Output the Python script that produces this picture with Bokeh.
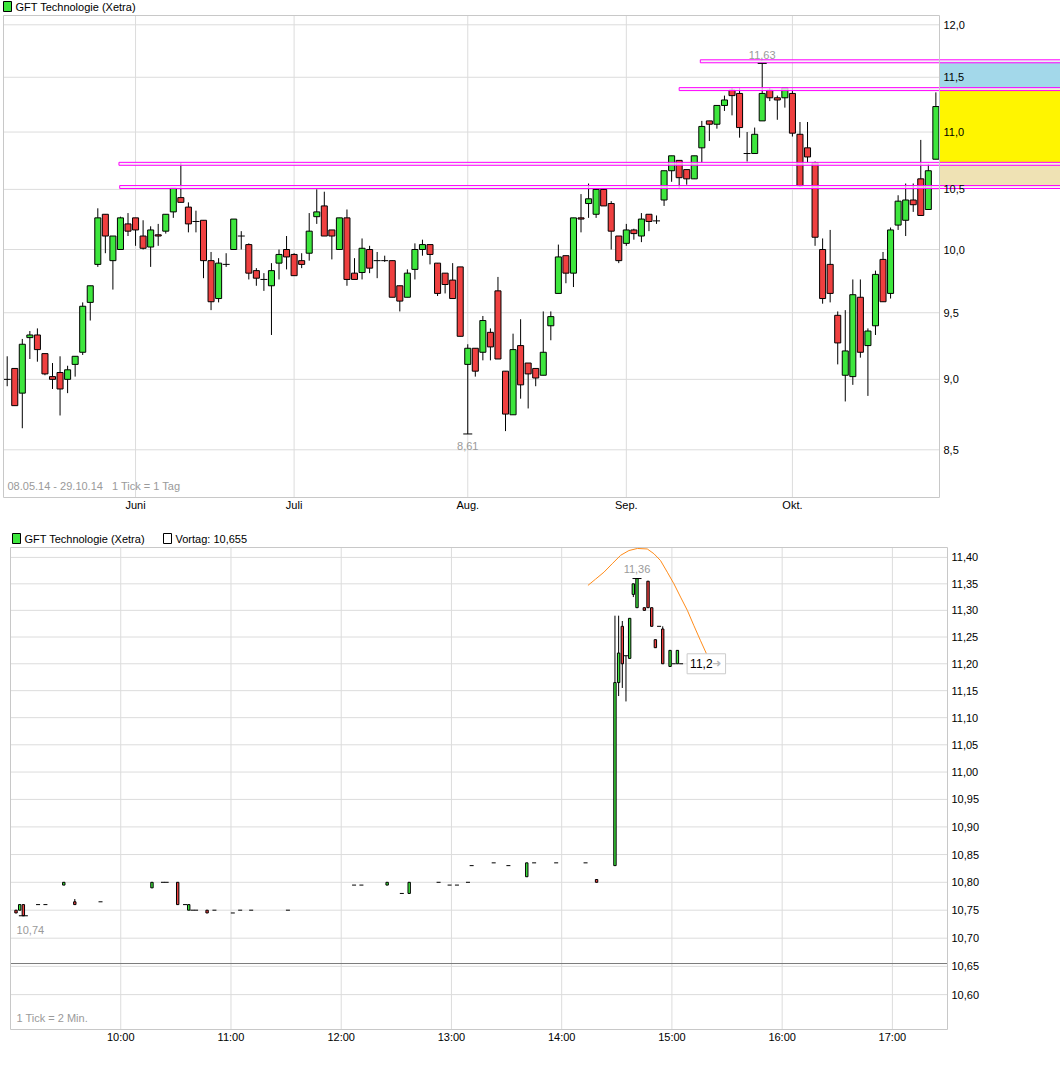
from bokeh.plotting import figure
from bokeh.layouts import column
from bokeh.models import (ColumnDataSource, Range1d, FixedTicker, CustomJSTickFormatter,
                          Label, BoxAnnotation)
from bokeh.core.properties import value
from bokeh.embed import file_html
from bokeh.resources import INLINE

FONT = "Liberation Sans"
GREEN = "#3de63d"
RED = "#ef4040"
GRID = "#dcdcdc"
OUTLINE = "#c8c8c8"
GRAY_TXT = "#9a9a9a"

# ---------------- daily candles 08.05.14 - 29.10.14 ----------------
d_open = [9.00, 9.08, 8.90, 9.31, 9.33, 9.19, 9.02, 9.05, 9.00, 9.11,
          9.20, 9.58, 9.88, 10.29, 9.91, 10.00, 10.21, 10.26, 10.11, 10.02,
          10.12, 10.15, 10.31, 10.43, 10.35, 10.23, 10.24, 9.91, 9.61, 9.88,
          10.00, 10.11, 10.04, 9.83, 9.76, 9.71, 9.89, 10.00, 9.96, 9.91,
          9.97, 10.27, 10.36, 10.16, 10.00, 10.26, 9.81, 9.815, 10.00, 9.91,
          9.91, 9.91, 9.71, 9.62, 9.84, 10.00, 10.04, 9.89, 9.81, 9.755,
          9.86, 9.11, 9.23, 9.20, 9.35, 9.67, 9.06, 8.745, 9.25, 9.12,
          9.08, 9.03, 9.40, 9.65, 9.95, 9.81, 10.26, 10.38, 10.29, 10.50,
          10.38, 10.11, 10.05, 10.16, 10.11, 10.29, 10.235, 10.41, 10.66, 10.75,
          10.67, 10.59, 10.86, 11.10, 11.07, 11.24, 11.38, 11.35, 10.81, 10.81,
          11.10, 11.38, 11.31, 11.31, 11.35, 10.98, 10.86, 10.73, 10.00, 9.88,
          9.48, 9.03, 9.02, 9.62, 9.25, 9.40, 9.92, 9.65, 10.20, 10.24,
          10.41, 10.59, 10.33, 10.76]
d_high = [9.17, 9.08, 9.30, 9.36, 9.38, 9.19, 9.12, 9.17, 9.10, 9.17,
          9.58, 9.71, 10.34, 10.29, 10.11, 10.27, 10.30, 10.26, 10.24, 10.19,
          10.21, 10.29, 10.51, 10.73, 10.39, 10.32, 10.24, 9.98, 9.93, 9.97,
          10.25, 10.15, 10.05, 9.85, 9.81, 9.89, 10.00, 10.11, 9.97, 9.97,
          10.30, 10.50, 10.48, 10.16, 10.26, 10.33, 9.93, 10.09, 10.03, 9.98,
          9.95, 9.91, 9.71, 9.84, 10.05, 10.08, 10.04, 9.89, 9.81, 9.89,
          9.86, 9.26, 9.23, 9.475, 9.38, 9.78, 9.06, 9.34, 9.45, 9.12,
          9.08, 9.51, 9.51, 10.04, 9.95, 10.26, 10.46, 10.55, 10.50, 10.50,
          10.40, 10.11, 10.21, 10.17, 10.30, 10.29, 10.28, 10.66, 10.79, 10.75,
          10.67, 10.79, 11.10, 11.10, 11.24, 11.33, 11.40, 11.40, 11.00, 11.04,
          11.63, 11.40, 11.33, 11.40, 11.40, 11.09, 11.09, 10.74, 10.09, 10.16,
          9.51, 9.52, 9.76, 9.76, 9.38, 9.83, 9.98, 10.18, 10.45, 10.55,
          10.55, 10.93, 10.72, 11.36]
d_low = [8.95, 8.81, 8.65, 9.15, 9.13, 9.03, 8.93, 8.74, 8.90, 9.02,
         9.18, 9.44, 9.86, 9.97, 9.68, 10.00, 10.11, 10.03, 10.00, 9.86,
         10.03, 10.13, 10.26, 10.39, 10.14, 10.14, 9.77, 9.52, 9.58, 9.86,
         10.00, 10.00, 9.76, 9.71, 9.67, 9.33, 9.76, 9.84, 9.79, 9.85,
         9.91, 10.21, 10.11, 9.92, 10.00, 9.71, 9.76, 9.76, 9.81, 9.77,
         9.90, 9.62, 9.51, 9.62, 9.76, 9.95, 9.88, 9.63, 9.65, 9.61,
         9.32, 8.61, 9.02, 9.14, 9.14, 9.15, 8.63, 8.745, 8.86, 8.79,
         8.95, 9.03, 9.29, 9.65, 9.73, 9.70, 10.14, 10.26, 10.26, 10.36,
         10.00, 9.89, 10.03, 10.08, 10.06, 10.15, 10.21, 10.36, 10.565, 10.51,
         10.54, 10.59, 10.73, 10.92, 11.03, 11.19, 11.15, 10.95, 10.74, 10.81,
         11.10, 11.28, 11.11, 11.22, 10.96, 10.52, 10.73, 10.03, 9.57, 9.58,
         9.11, 8.84, 8.96, 9.16, 8.88, 9.33, 9.585, 9.61, 10.16, 10.11,
         10.31, 10.28, 10.33, 10.76]
d_close = [9.00, 8.81, 9.26, 9.33, 9.22, 9.04, 9.00, 8.93, 9.07, 9.17,
           9.55, 9.71, 10.26, 10.11, 10.11, 10.26, 10.15, 10.16, 10.01, 10.16,
           10.11, 10.29, 10.51, 10.39, 10.21, 10.23, 9.91, 9.585, 9.89, 9.88,
           10.25, 10.11, 9.81, 9.77, 9.76, 9.83, 9.96, 9.94, 9.79, 9.88,
           10.15, 10.31, 10.11, 10.11, 10.26, 9.76, 9.76, 10.01, 9.85, 9.91,
           9.91, 9.62, 9.59, 9.81, 10.00, 10.04, 9.96, 9.65, 9.72, 9.61,
           9.32, 9.23, 9.06, 9.44, 9.24, 9.15, 8.75, 9.22, 8.96, 9.04,
           9.01, 9.20, 9.47, 9.94, 9.81, 10.26, 10.25, 10.42, 10.50, 10.36,
           10.15, 9.91, 10.16, 10.13, 10.25, 10.23, 10.235, 10.66, 10.79, 10.60,
           10.59, 10.79, 11.05, 11.07, 11.24, 11.29, 11.33, 11.04, 10.81, 10.98,
           11.35, 11.31, 11.29, 11.40, 10.99, 10.53, 10.78, 10.10, 9.61, 9.65,
           9.27, 9.21, 9.64, 9.20, 9.36, 9.80, 9.585, 10.16, 10.40, 10.41,
           10.37, 10.28, 10.66, 11.23]
month_idx = [17, 38, 61, 82, 104]
month_labels = ["Juni", "Juli", "Aug.", "Sep.", "Okt."]
price_ticks = [8.5, 9.0, 9.5, 10.0, 10.5, 11.0, 11.5, 12.0]
levels = [11.65, 11.39, 10.72, 10.52]
level_start = [91.8, 89.0, 14.8, 14.9]
zone_low = [11.39, 10.72, 10.52]
zone_high = [11.65, 11.39, 10.72]
zone_colors = ["#a3d8ea", "#fff500", "#efe2b4"]
title_text = "GFT Technologie (Xetra)"
range_text = "08.05.14 - 29.10.14\u00a0\u00a0\u00a01 Tick = 1 Tag"

# ---------------- intraday 2-min candles 29.10.14 ----------------
i_min = [3, 5, 7, 15, 19, 29, 35, 49, 77, 83,
         85, 91, 95, 97, 99, 101, 107, 111, 121, 125,
         131, 151, 187, 191, 205, 213, 217, 233, 239, 243,
         249, 251, 263, 271, 281, 285, 297, 313, 319, 329,
         331, 333, 335, 337, 339, 341, 345, 347, 349, 351,
         353, 355, 359, 361, 363, 365]
i_open = [10.75, 10.75, 10.76, 10.76, 10.76, 10.795, 10.765, 10.765, 10.79, 10.80,
          10.80, 10.80, 10.76, 10.75, 10.75, 10.75, 10.75, 10.75, 10.745, 10.75,
          10.75, 10.75, 10.795, 10.795, 10.795, 10.78, 10.78, 10.80, 10.795, 10.795,
          10.80, 10.83, 10.835, 10.83, 10.81, 10.835, 10.835, 10.835, 10.805, 10.83,
          11.165, 11.27, 11.215, 11.21, 11.33, 11.305, 11.305, 11.355, 11.305, 11.245,
          11.27, 11.265, 11.195, 11.20, 11.20, 11.20]
i_high = [10.75, 10.76, 10.76, 10.76, 10.76, 10.80, 10.77, 10.765, 10.80, 10.80,
          10.80, 10.80, 10.76, 10.76, 10.75, 10.75, 10.75, 10.75, 10.745, 10.75,
          10.75, 10.75, 10.795, 10.795, 10.80, 10.78, 10.80, 10.80, 10.795, 10.795,
          10.80, 10.83, 10.835, 10.83, 10.835, 10.835, 10.835, 10.835, 10.805, 11.29,
          11.29, 11.28, 11.215, 11.285, 11.35, 11.36, 11.305, 11.355, 11.305, 11.245,
          11.27, 11.27, 11.225, 11.20, 11.225, 11.20]
i_low = [10.745, 10.75, 10.74, 10.76, 10.76, 10.795, 10.76, 10.765, 10.79, 10.80,
         10.80, 10.76, 10.76, 10.75, 10.75, 10.75, 10.745, 10.75, 10.745, 10.75,
         10.75, 10.75, 10.795, 10.795, 10.795, 10.78, 10.78, 10.80, 10.795, 10.795,
         10.80, 10.83, 10.835, 10.83, 10.81, 10.835, 10.835, 10.835, 10.80, 10.83,
         11.14, 11.155, 11.13, 11.21, 11.325, 11.305, 11.30, 11.305, 11.27, 11.23,
         11.27, 11.20, 11.195, 11.20, 11.20, 11.20]
i_close = [10.745, 10.76, 10.74, 10.76, 10.76, 10.80, 10.76, 10.765, 10.80, 10.80,
           10.80, 10.76, 10.76, 10.76, 10.75, 10.75, 10.745, 10.75, 10.745, 10.75,
           10.75, 10.75, 10.795, 10.795, 10.80, 10.78, 10.80, 10.80, 10.795, 10.795,
           10.80, 10.83, 10.835, 10.83, 10.835, 10.835, 10.835, 10.835, 10.80, 11.165,
           11.22, 11.20, 11.215, 11.285, 11.35, 11.36, 11.30, 11.305, 11.27, 11.23,
           11.27, 11.20, 11.225, 11.20, 11.225, 11.20]
session_open_min = 540   # 09:00
session_close_min = 1050  # 17:30
hour_ticks = [600, 660, 720, 780, 840, 900, 960, 1020]
hour_labels = ["10:00", "11:00", "12:00", "13:00", "14:00", "15:00", "16:00", "17:00"]
intra_ticks = [10.60, 10.65, 10.70, 10.75, 10.80, 10.85, 10.90, 10.95, 11.00,
               11.05, 11.10, 11.15, 11.20, 11.25, 11.30, 11.35, 11.40]
prev_close = 10.655
last_price = 11.2
arc_min = [314.3, 318.5, 323.0, 327.5, 332.1, 336.6, 341.2, 346.6, 350.2,
           353.8, 357.5, 361.1, 364.7, 368.4, 372.0, 375.6, 379.3, 382.0]
arc_price = [11.347, 11.359, 11.372, 11.388, 11.404, 11.413, 11.417, 11.416, 11.407,
             11.394, 11.372, 11.350, 11.325, 11.300, 11.271, 11.243, 11.215, 11.193]


def fmt(v, d=2):
    return f"{v:.{d}f}".replace(".", ",")


def candles(p, xs, o, h, l, c, width, dash_size):
    body = dict(x=[], top=[], bot=[], col=[])
    doji = dict(x=[], y=[])
    for x, a, b in zip(xs, o, c):
        if abs(a - b) < 1e-9:
            doji["x"].append(x)
            doji["y"].append(a)
        else:
            body["x"].append(x)
            body["top"].append(max(a, b))
            body["bot"].append(min(a, b))
            body["col"].append(GREEN if b > a else RED)
    p.segment(x0=xs, y0=h, x1=xs, y1=l, line_color="black", line_width=1)
    p.vbar(x="x", top="top", bottom="bot", width=width, fill_color="col",
           line_color="black", line_width=1, source=ColumnDataSource(body))
    p.scatter(x="x", y="y", marker="dash", size=dash_size, line_color="black",
              line_width=1, source=ColumnDataSource(doji))


def style(p, ylab_fmt, ystandoff):
    p.outline_line_color = None
    p.xgrid.grid_line_color = None
    p.ygrid.grid_line_color = None
    for ax in (p.xaxis[0], p.yaxis[0]):
        ax.axis_line_color = None
        ax.major_tick_line_color = None
        ax.minor_tick_line_color = None
        ax.major_tick_out = 0
        ax.major_tick_in = 0
        ax.minor_tick_out = 0
        ax.minor_tick_in = 0
        ax.major_label_text_font = FONT
        ax.major_label_text_font_size = "11px"
        ax.major_label_text_color = "black"
    p.yaxis[0].formatter = CustomJSTickFormatter(code=ylab_fmt)
    p.yaxis[0].major_label_standoff = ystandoff
    p.xaxis[0].major_label_standoff = 0


def grid_lines(p, x0, x1, y0, y1, xticks, yticks):
    kx, ky = len(xticks), len(yticks)
    p.segment(x0=xticks, y0=[y0] * kx, x1=xticks, y1=[y1] * kx, line_color=GRID, line_width=1)
    p.segment(x0=[x0] * ky, y0=yticks, x1=[x1] * ky, y1=yticks, line_color=GRID, line_width=1)


def border(p, x0, x1, y0, y1):
    p.quad(left=[x0], right=[x1], top=[y1], bottom=[y0], fill_color=None,
           line_color=OUTLINE, line_width=1)


def canvas_label(p, x, y, text, color="black"):
    p.add_layout(Label(x=x, y=y, x_units="canvas", y_units="canvas", text=text,
                       text_font=FONT, text_font_size="11px", text_color=color,
                       text_baseline="middle", text_align="left"))


def canvas_box(p, l, r, t, b, color):
    p.add_layout(BoxAnnotation(left=l, right=r, top=t, bottom=b,
                               left_units="canvas", right_units="canvas",
                               top_units="canvas", bottom_units="canvas",
                               fill_color=color, fill_alpha=1, line_color="black",
                               line_alpha=1, line_width=1, level="overlay"))


W = 1060
# ================= top chart =================
PX_DAY = 7.55
n = len(d_close)
xd = list(range(n))
vis_x0 = -0.49                 # left edge of the price frame
main_end = n - 0.52            # right edge of the price frame
fr_x0 = vis_x0 - 1 / PX_DAY
fr_x1 = main_end + (W - 939) / PX_DAY
vis_y0, vis_y1 = 8.1774, 12.0909
fr_y0, fr_y1 = 8.1707, 12.2390
p1 = figure(width=W, height=525, x_range=Range1d(fr_x0, fr_x1),
            y_range=Range1d(fr_y0, fr_y1), y_axis_type="log", y_axis_location="right",
            output_backend="svg", toolbar_location=None,
            min_border_left=2, min_border_right=0, min_border_top=0, min_border_bottom=27)
style(p1, "return tick.toFixed(1).replace('.', ',')", 943 - W)
p1.yaxis[0].ticker = FixedTicker(ticks=price_ticks)
p1.xaxis[0].ticker = FixedTicker(ticks=month_idx)
p1.xaxis[0].major_label_overrides = {i: t for i, t in zip(month_idx, month_labels)}

grid_lines(p1, vis_x0, main_end, vis_y0, vis_y1, month_idx, price_ticks)
p1.quad(left=[main_end] * len(zone_low), right=[fr_x1] * len(zone_low),
        top=zone_high, bottom=zone_low, fill_color=zone_colors, line_color=None)

candles(p1, xd, d_open, d_high, d_low, d_close, 0.8, 7)

p1.quad(left=level_start, right=[fr_x1] * len(levels),
        top=[lv * 1.0012 for lv in levels], bottom=[lv * 0.9988 for lv in levels],
        fill_color="#f2f2f2", fill_alpha=0.8, line_color="#ff00ff", line_width=1)
border(p1, vis_x0, main_end, vis_y0, vis_y1)

imax = max(xd, key=lambda i: d_high[i])
imin = min(xd, key=lambda i: d_low[i])
p1.scatter([imax, imin], [d_high[imax], d_low[imin]], marker="dash", size=9,
           line_color="black", line_width=1)
p1.text([imax], [d_high[imax]], text=[fmt(d_high[imax])], y_offset=-8,
        text_align="center", text_baseline="middle", text_font=value(FONT),
        text_font_size="11px", text_color=GRAY_TXT)
p1.text([imin], [d_low[imin]], text=[fmt(d_low[imin])], y_offset=12,
        text_align="center", text_baseline="middle", text_font=value(FONT),
        text_font_size="11px", text_color=GRAY_TXT)

canvas_box(p1, 3, 11, 1, 11, GREEN)
canvas_label(p1, 15, 6, title_text)
canvas_label(p1, 7, 485, range_text, GRAY_TXT)

# ================= intraday chart =================
PX_MIN = 937 / 510
xi = [session_open_min + m for m in i_min]
i_fr_x0 = session_open_min - 8 / PX_MIN
i_fr_x1 = session_open_min + (W - 10) / PX_MIN
i_vis_y0, i_vis_y1 = 10.5386, 11.4188
i_fr_y0, i_fr_y1 = 10.5369, 11.4607
p2 = figure(width=W, height=529, x_range=Range1d(i_fr_x0, i_fr_x1),
            y_range=Range1d(i_fr_y0, i_fr_y1), y_axis_type="log", y_axis_location="right",
            output_backend="svg", toolbar_location=None,
            min_border_left=2, min_border_right=0, min_border_top=0, min_border_bottom=24)
style(p2, "return tick.toFixed(2).replace('.', ',')", 951 - W)
p2.yaxis[0].ticker = FixedTicker(ticks=intra_ticks)
p2.xaxis[0].ticker = FixedTicker(ticks=hour_ticks)
p2.xaxis[0].major_label_overrides = {t: s for t, s in zip(hour_ticks, hour_labels)}

grid_lines(p2, session_open_min, session_close_min, i_vis_y0, i_vis_y1,
           hour_ticks, intra_ticks)
p2.segment(x0=[session_open_min], y0=[prev_close], x1=[session_close_min], y1=[prev_close],
           line_color="#7a7a7a", line_width=1)

candles(p2, xi, i_open, i_high, i_low, i_close, 1.3, 4)

p2.line([session_open_min + m for m in arc_min], arc_price, line_color="#ff8c1a", line_width=1)
border(p2, session_open_min, session_close_min, i_vis_y0, i_vis_y1)

jmax = max(range(len(xi)), key=lambda j: i_high[j])
jmin = min(range(len(xi)), key=lambda j: i_low[j])
p2.scatter([xi[jmax], xi[jmin]], [i_high[jmax], i_low[jmin]], marker="dash", size=9,
           line_color="black", line_width=1)
p2.text([xi[jmax]], [i_high[jmax]], text=[fmt(i_high[jmax])], y_offset=-10,
        text_align="center", text_baseline="middle", text_font=value(FONT),
        text_font_size="11px", text_color=GRAY_TXT)
p2.text([xi[jmin]], [i_low[jmin]], text=[fmt(i_low[jmin])], x_offset=7, y_offset=14,
        text_align="center", text_baseline="middle", text_font=value(FONT),
        text_font_size="11px", text_color=GRAY_TXT)

p2.add_layout(Label(x=xi[-1], y=last_price, x_offset=6, text=fmt(last_price, 1) + "   ",
                    text_font=FONT, text_font_size="12px", text_color="black",
                    text_baseline="middle", text_align="left",
                    border_line_color="#cccccc", background_fill_color="white", padding=3))
p2.add_layout(Label(x=xi[-1], y=last_price, x_offset=31, text="\u279c",
                    text_font="DejaVu Sans", text_font_size="11px", text_color="#b8b8b8",
                    text_baseline="middle", text_align="left"))

canvas_box(p2, 12, 20, 8, 18, GREEN)
canvas_label(p2, 24, 13, title_text)
canvas_box(p2, 163, 171, 8, 18, "white")
canvas_label(p2, 175, 13, "Vortag: " + fmt(prev_close, 3))
canvas_label(p2, 16, 492, "1 Tick = 2 Min.", GRAY_TXT)

layout = column(p1, p2)
open("out.html", "w").write(file_html(layout, INLINE, "GFT Technologie"))
